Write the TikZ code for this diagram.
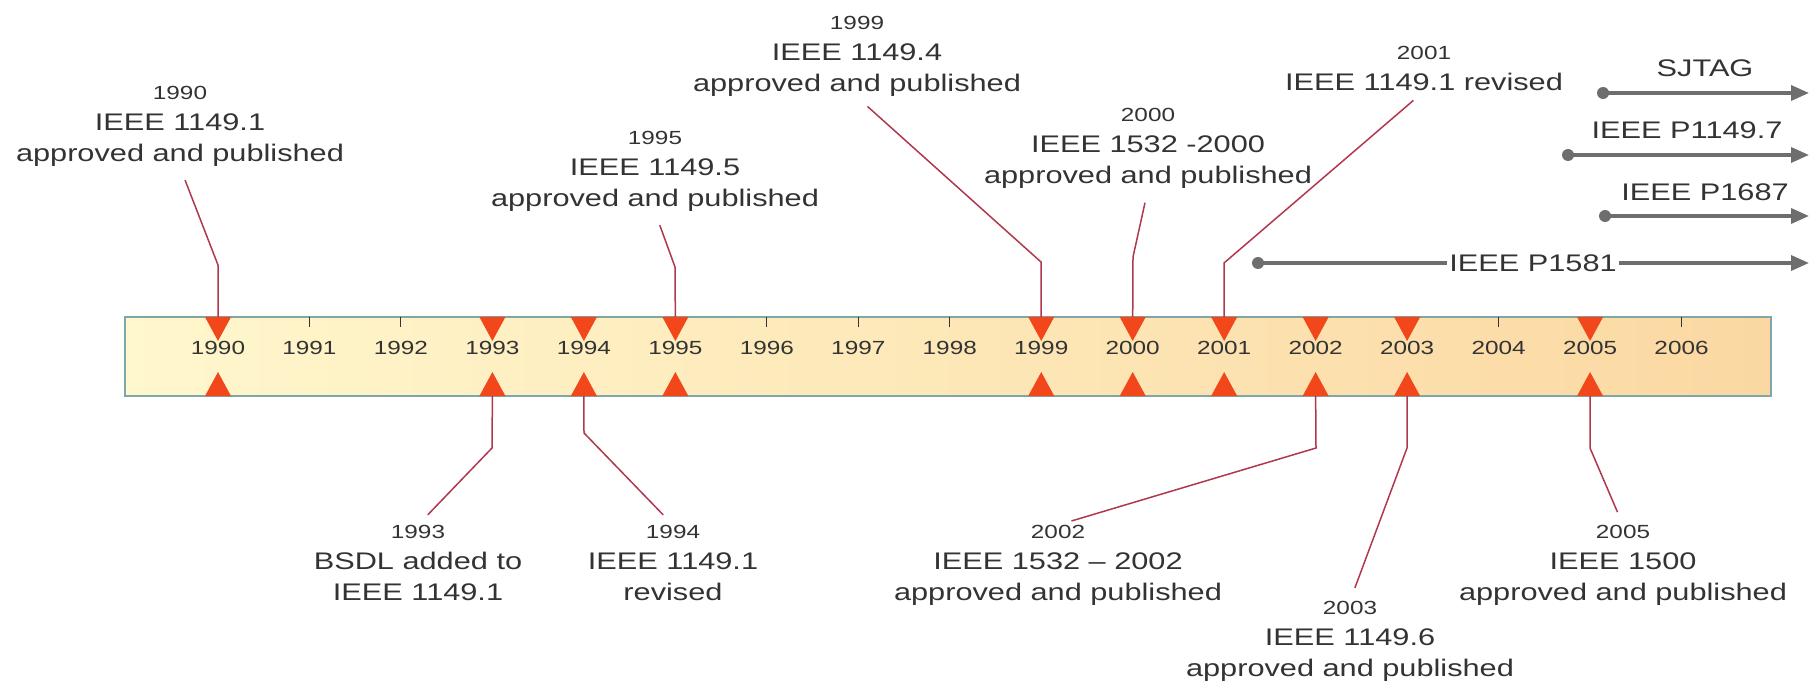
\documentclass[tikz,border=0pt]{standalone}
\usepackage{fontspec}
\setmainfont{Liberation Sans}[FakeStretch=1.28]
\usetikzlibrary{arrows.meta}
\definecolor{tlInk}{HTML}{333333}
\definecolor{tlLeader}{HTML}{B0384C}
\definecolor{tlMarker}{HTML}{F2461B}
\definecolor{tlFrame}{HTML}{7FA6A8}
\definecolor{tlBarLeft}{HTML}{FFF7CD}
\definecolor{tlBarRight}{HTML}{FBD8A2}
\definecolor{tlTrack}{HTML}{6E6E6E}
\newcommand{\tlyear}[1]{{\fontsize{9.5}{15.5}\selectfont #1}}
\tikzset{
  every picture/.style={text=tlInk},
  tl event/.style={align=center, inner sep=0pt, font=\fontsize{12}{15.5}\selectfont},
  tl leader/.style={draw=tlLeader, line width=0.75pt},
  tl marker/.style={fill=tlMarker},
  tl tick/.style={draw=tlInk, line width=0.5pt},
  tl year/.style={inner sep=0pt, font=\fontsize{9.5}{12}\selectfont},
  tl track/.style={draw=tlTrack, line width=1.75pt, -{Triangle[length=9pt,width=7.5pt]}},
  tl dot/.style={fill=tlTrack},
  tl tag/.style={inner sep=1pt, font=\fontsize{12}{15}\selectfont}
}
\begin{document}
\begin{tikzpicture}[x=0.5pt,y=-0.5pt]
  \useasboundingbox (0,0) rectangle (1810,684);
  % the year bar
  \shade[left color=tlBarLeft, right color=tlBarRight] (125,317) rectangle (1771,396);
  \draw[draw=tlFrame, line width=1pt] (125,317) rectangle (1771,396);
  \foreach \i in {0,...,16} {
    \pgfmathsetmacro{\yx}{218+91.47*\i}
    \pgfmathtruncatemacro{\yy}{1990+\i}
    \draw[tl tick] (\yx,317) -- (\yx,327);
    \node[tl year] (y\yy) at (\yx,348) {\yy};
  }
  \foreach \yy in {1990,1993,1994,1995,1999,2000,2001,2002,2003,2005} {
    \pgfmathsetmacro{\yx}{218+91.47*(\yy-1990)}
    \fill[tl marker] (\yx-13,317) -- (\yx+13,317) -- (\yx,341) -- cycle;
    \fill[tl marker] (\yx-13,396) -- (\yx+13,396) -- (\yx,372) -- cycle;
    \coordinate (t\yy) at (\yx,317);
    \coordinate (b\yy) at (\yx,396);
  }

  % events above
  \node[tl event, anchor=north] (e1990) at (180,86) {\tlyear{1990}\\IEEE 1149.1\\approved and published};
  \node[tl event, anchor=north] (e1995) at (655,131) {\tlyear{1995}\\IEEE 1149.5\\approved and published};
  \node[tl event, anchor=north] (e1999) at (857,16) {\tlyear{1999}\\IEEE 1149.4\\approved and published};
  \node[tl event, anchor=north] (e2000) at (1148,108) {\tlyear{2000}\\IEEE 1532 -2000\\approved and published};
  \node[tl event, anchor=north] (e2001) at (1424,46) {\tlyear{2001}\\IEEE 1149.1 revised};
  \draw[tl leader, shorten <=7pt] (e1990.south) -- (218,265) -- (t1990);
  \draw[tl leader, shorten <=7pt] (e1995.south) -- (675,267) -- (t1995);
  \draw[tl leader, shorten <=7pt] (e1999.south) -- (1041,262) -- (t1999);
  \draw[tl leader, shorten <=7pt] (e2000.south) -- (1133,257) -- (t2000);
  \draw[tl leader, shorten <=7pt] (e2001.south) -- (1224,263) -- (t2001);

  % events below
  \node[tl event, anchor=north] (e1993) at (418,525) {\tlyear{1993}\\BSDL added to\\IEEE 1149.1};
  \node[tl event, anchor=north] (e1994) at (673,525) {\tlyear{1994}\\IEEE 1149.1\\revised};
  \node[tl event, anchor=north] (e2002) at (1058,525) {\tlyear{2002}\\IEEE 1532 -- 2002\\approved and published};
  \node[tl event, anchor=north] (e2003) at (1350,601) {\tlyear{2003}\\IEEE 1149.6\\approved and published};
  \node[tl event, anchor=north] (e2005) at (1623,525) {\tlyear{2005}\\IEEE 1500\\approved and published};
  \draw[tl leader, shorten >=7pt] (b1993) -- (492,448) -- (e1993.north);
  \draw[tl leader, shorten >=7pt] (b1994) -- (584,433) -- (e1994.north);
  \draw[tl leader, shorten >=7pt] (b2002) -- (1316,448) -- (e2002.north);
  \draw[tl leader, shorten >=7pt] (b2003) -- (1407,448) -- (e2003.north);
  \draw[tl leader, shorten >=7pt] (b2005) -- (1590,448) -- (e2005.north);

  % ongoing work
  \coordinate (sjtagA) at (1603,93);
  \coordinate (sjtagB) at (1809,93);
  \coordinate (p1149A) at (1568,155);
  \coordinate (p1149B) at (1809,155);
  \coordinate (p1687A) at (1605,216);
  \coordinate (p1687B) at (1809,216);
  \coordinate (p1581A) at (1258,263);
  \coordinate (p1581B) at (1809,263);
  \node[tl tag] (sjtag) at (1705,68) {SJTAG};
  \node[tl tag] (p1149) at (1687,130) {IEEE P1149.7};
  \node[tl tag] (p1687) at (1705,192) {IEEE P1687};
  \node[tl tag] (p1581) at (1533,263) {IEEE P1581};
  \draw[tl track] (sjtagA) -- (sjtagB);
  \draw[tl track] (p1149A) -- (p1149B);
  \draw[tl track] (p1687A) -- (p1687B);
  \draw[tl track] (p1581A) -- (p1581) -- (p1581B);
  \foreach \c in {sjtagA,p1149A,p1687A,p1581A}
    \fill[tl dot] (\c) circle[radius=3pt];
\end{tikzpicture}
\end{document}
